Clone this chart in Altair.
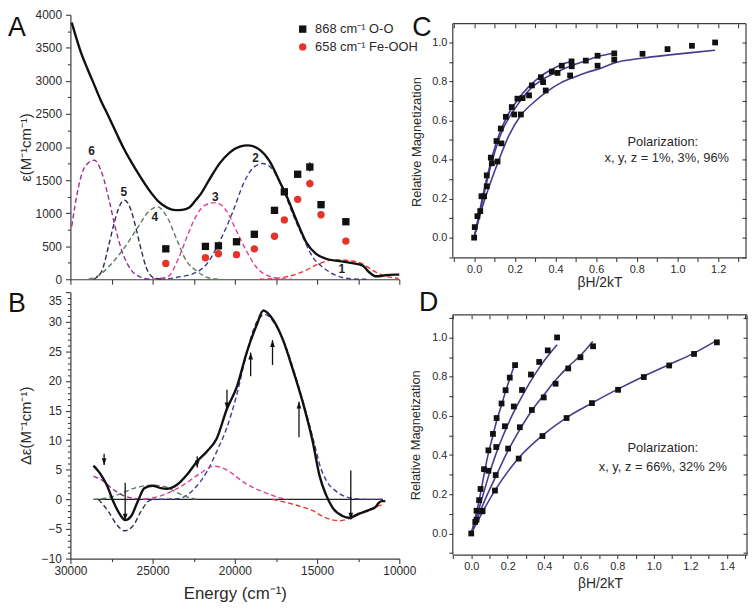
import altair as alt
import pandas as pd

FONT = "Liberation Sans"
AXC = "#3c3c3c"
TXT = "#2a2a2a"

# ---------------- Panel A : absorption (epsilon vs energy) ----------------
A_total_E = [29920, 29680, 29360, 28960, 28650, 28110, 27750, 27150, 26730, 26000, 25100, 24600, 24100, 23600, 23200, 22800, 22400, 22100, 21500, 20900, 20300, 19700, 19200, 18500, 17900, 17300, 16700, 16400, 16070, 15660, 15060, 14460, 13660, 12850, 12250, 11850, 11450, 11100, 10850, 10250, 10000]
A_total_eps = [3880, 3680, 3430, 3180, 3000, 2680, 2500, 2180, 1965, 1650, 1310, 1165, 1080, 1045, 1050, 1080, 1190, 1280, 1530, 1760, 1920, 2005, 2025, 1960, 1790, 1490, 1170, 980, 784, 560, 385, 310, 274, 244, 210, 110, 45, 50, 60, 70, 70]

A_c1_E = [18500, 17700, 16900, 15900, 14900, 13900, 13100, 12250, 11450, 10650, 10050]
A_c1_eps = [0, 10, 35, 110, 234, 295, 285, 234, 110, 35, 15]
A_c2_E = [25500, 24000, 23500, 22300, 21700, 20900, 20100, 19500, 18900, 18300, 17700, 17100, 16500, 15860, 15260, 14660, 13860, 12850, 12000]
A_c2_eps = [0, 10, 30, 110, 235, 584, 1034, 1433, 1682, 1750, 1658, 1383, 1000, 634, 334, 184, 60, 5, 0]
A_c3_E = [25000, 24100, 23400, 22900, 22300, 21800, 21200, 20500, 19900, 19300, 18700, 17900, 17000, 16500]
A_c3_eps = [0, 35, 330, 650, 980, 1120, 1158, 1030, 730, 430, 185, 45, 5, 0]
A_c4_E = [28900, 28200, 27500, 26700, 25900, 25300, 24700, 24100, 23500, 23000, 22300, 21500, 20800]
A_c4_eps = [0, 70, 235, 484, 784, 1009, 1095, 930, 580, 300, 120, 15, 0]
A_c5_E = [28600, 28100, 27700, 27400, 27100, 26900, 26700, 26500, 26300, 26000, 25700, 25400, 24900, 24300]
A_c5_eps = [0, 120, 480, 790, 1050, 1160, 1195, 1150, 1035, 760, 450, 185, 20, 0]
A_c6_E = [29920, 29520, 29120, 28550, 28050, 27650, 27250, 26800, 26300, 25700, 25100]
A_c6_eps = [800, 1385, 1700, 1800, 1580, 1200, 760, 380, 140, 30, 0]

A_band_labels = ["1", "2", "3", "4", "5", "6"]
A_band_label_E = [13494, 18735, 21187, 24861, 26747, 28717]
A_band_label_eps = [160, 1832, 1248, 944, 1318, 1943]

A_pts_E = [24200, 21790, 21000, 19900, 18815, 17590, 16990, 16180, 15440, 14760, 13250]
A_OO = [460, 497, 505, 567, 680, 1042, 1322, 1588, 1698, 1128, 870]
A_OO_err = [20, 20, 20, 20, 40, 40, 40, 40, 70, 50, 50]
A_FeOOH = [240, 325, 385, 372, 460, 650, 897, 1209, 1447, 975, 577]
A_FeOOH_err = [20, 20, 20, 20, 40, 40, 40, 40, 60, 40, 40]
A_series = ["868 cm⁻¹ O-O", "658 cm⁻¹ Fe-OOH"]

# ---------------- Panel B : MCD (delta epsilon vs energy) ----------------
B_total_E = [28600, 28200, 27800, 27400, 27000, 26670, 26300, 25900, 25500, 25000, 24500, 24100, 23500, 22900, 22300, 21700, 21100, 20480, 19880, 19280, 18680, 18270, 17670, 17070, 16470, 15860, 15260, 14860, 14460, 14060, 13450, 13050, 12450, 11850, 11450, 11250, 11050, 10850]
B_total_de = [5.7, 4.4, 2.5, -0.3, -2.5, -3.5, -2.8, -0.3, 1.9, 2.3, 1.9, 1.8, 2.5, 4.2, 6.4, 8.1, 10.3, 15.3, 19.0, 24.8, 29.4, 31.9, 30.3, 26.9, 21.9, 16.3, 9.7, 4.1, 0.8, -1.4, -2.8, -3.1, -2.4, -1.8, -1.3, -0.6, -0.3, -0.3]

B_c1_E = [17700, 16900, 16000, 15260, 14650, 14000, 13650, 13200, 12650, 11850, 11050]
B_c1_de = [0, -0.5, -1.2, -1.9, -2.9, -3.5, -3.6, -3.4, -2.8, -1.7, -0.9]
B_c2_E = [25100, 23500, 22500, 21700, 21100, 20500, 19900, 19300, 18700, 18150, 17600, 17000, 16400, 15800, 15200, 14800, 14400, 13850, 13300, 12850, 12000, 11000]
B_c2_de = [0, 0.1, 1.7, 4.7, 8.1, 12.0, 17.5, 24.5, 29.8, 31.2, 29.8, 26.5, 21.6, 16.0, 9.8, 5.5, 3.0, 1.4, 0.5, 0.2, 0, 0]
B_c3_E = [25500, 24300, 23100, 22100, 21300, 20500, 19900, 19300, 18300, 17300, 16800]
B_c3_de = [0, 0.8, 2.5, 4.4, 5.6, 5.0, 3.8, 2.6, 1.3, 0.3, 0]
B_c4_E = [28600, 27700, 27100, 26100, 25100, 24300, 23500, 22700, 22200]
B_c4_de = [0, 0.3, 0.8, 1.9, 2.4, 2.2, 1.1, 0.25, 0]
B_c5_E = [28300, 27700, 27200, 26700, 26200, 25700, 25200, 24800]
B_c5_de = [0, -2.0, -4.2, -5.3, -4.5, -2.0, -0.2, 0]
B_c6_E = [28600, 28100, 27500, 26900, 26300, 25700, 25300]
B_c6_de = [3.9, 3.3, 1.9, 0.8, 0.25, 0.05, 0]

B_zero_E = [28600, 11000]
B_zero_de = [0, 0]

B_arrow_E = [27950, 26670, 22290, 20480, 19040, 17710, 16100, 12950]
B_arrow_from = [7.7, 2.8, 7.3, 18.5, 20.8, 22.7, 10.5, 4.9]
B_arrow_to = [5.8, -3.6, 5.4, 15.2, 24.8, 26.9, 16.5, -3.4]

# ---------------- Panel C : VTVH magnetization ----------------
C_pts_x = [0.0, 0.003, 0.016, 0.03, 0.036, 0.049, 0.062, 0.062, 0.082, 0.087, 0.110, 0.115, 0.131, 0.134, 0.156, 0.185, 0.197, 0.213, 0.230, 0.238, 0.270, 0.284, 0.328, 0.339, 0.352, 0.382, 0.410, 0.431, 0.472, 0.479, 0.480, 0.549, 0.607, 0.607, 0.689, 0.689, 0.828, 0.951, 1.071, 1.185]
C_pts_y = [0.0, 0.054, 0.110, 0.136, 0.212, 0.212, 0.319, 0.263, 0.410, 0.381, 0.495, 0.390, 0.559, 0.483, 0.619, 0.669, 0.631, 0.712, 0.631, 0.715, 0.729, 0.780, 0.822, 0.797, 0.754, 0.851, 0.844, 0.881, 0.831, 0.903, 0.878, 0.907, 0.881, 0.932, 0.944, 0.912, 0.942, 0.966, 0.983, 1.0]
C_fit1_x = [0, 0.02, 0.05, 0.08, 0.11, 0.156, 0.213, 0.27, 0.328, 0.382, 0.431, 0.48]
C_fit1_y = [0, 0.1, 0.25, 0.38, 0.49, 0.61, 0.705, 0.775, 0.828, 0.862, 0.887, 0.905]
C_fit2_x = [0, 0.02, 0.05, 0.08, 0.131, 0.213, 0.284, 0.339, 0.41, 0.48, 0.549, 0.607, 0.689]
C_fit2_y = [0, 0.09, 0.23, 0.36, 0.53, 0.68, 0.77, 0.812, 0.85, 0.882, 0.906, 0.928, 0.945]
C_fit3_x = [0, 0.03, 0.06, 0.115, 0.172, 0.23, 0.295, 0.361, 0.426, 0.492, 0.557, 0.623, 0.69, 0.83, 0.95, 1.07, 1.185]
C_fit3_y = [0, 0.12, 0.22, 0.38, 0.525, 0.627, 0.695, 0.751, 0.793, 0.822, 0.847, 0.868, 0.895, 0.92, 0.935, 0.948, 0.96]

# ---------------- Panel D : VTVH magnetization ----------------
D_s1_x = [0.0, 0.022, 0.029, 0.051, 0.070, 0.094, 0.119, 0.139, 0.166, 0.188, 0.211, 0.240]
D_s1_y = [0.0, 0.059, 0.116, 0.227, 0.328, 0.424, 0.508, 0.589, 0.663, 0.731, 0.795, 0.859]
D_s2_x = [0.029, 0.043, 0.094, 0.137, 0.184, 0.233, 0.278, 0.327, 0.372, 0.419, 0.470]
D_s2_y = [0.07, 0.17, 0.320, 0.441, 0.547, 0.648, 0.732, 0.811, 0.875, 0.934, 1.0]
D_s3_x = [0.061, 0.134, 0.202, 0.266, 0.332, 0.397, 0.462, 0.531, 0.598, 0.667]
D_s3_y = [0.113, 0.298, 0.433, 0.542, 0.630, 0.694, 0.764, 0.842, 0.899, 0.955]
D_s4_x = [0.061, 0.130, 0.260, 0.390, 0.522, 0.661, 0.804, 0.945, 1.084, 1.220, 1.345]
D_s4_y = [0.116, 0.219, 0.382, 0.497, 0.589, 0.665, 0.733, 0.798, 0.857, 0.916, 0.975]
D_fit1_x = [0, 0.03, 0.05, 0.07, 0.094, 0.119, 0.139, 0.166, 0.188, 0.211, 0.238]
D_fit1_y = [0, 0.11, 0.2, 0.3, 0.41, 0.5, 0.575, 0.655, 0.725, 0.79, 0.862]
D_fit2_x = [0, 0.05, 0.094, 0.137, 0.184, 0.233, 0.278, 0.327, 0.372, 0.419, 0.47]
D_fit2_y = [0, 0.15, 0.29, 0.41, 0.52, 0.62, 0.70, 0.78, 0.845, 0.905, 0.963]
D_fit3_x = [0, 0.07, 0.134, 0.2, 0.266, 0.33, 0.4, 0.46, 0.53, 0.6, 0.665]
D_fit3_y = [0, 0.16, 0.29, 0.42, 0.53, 0.625, 0.71, 0.78, 0.85, 0.91, 0.98]
D_fit4_x = [0, 0.13, 0.26, 0.39, 0.52, 0.66, 0.80, 0.94, 1.08, 1.22, 1.345]
D_fit4_y = [0, 0.22, 0.385, 0.5, 0.59, 0.665, 0.735, 0.80, 0.86, 0.92, 0.985]

# ---------------- styles ----------------
BAND_COLORS = {"1": "#e8342e", "2": "#3b3c92", "3": "#e23d96", "4": "#5d7d5c", "5": "#2f2b4c", "6": "#9a2f8e"}
FIT_COLOR = "#4a3a8e"
ARROW_DOWN = "M-0.75,-2.2L0.75,-2.2L0,0Z"
ARROW_UP = "M-0.75,2.2L0.75,2.2L0,0Z"
LETTER_SIZE = 27


def frame(xs, ys, xn, yn, **cols):
    d = pd.DataFrame({xn: xs, yn: ys})
    for k, v in cols.items():
        d[k] = v
    return d


def cond(test, when_true, otherwise):
    return {"condition": {"test": test, "value": when_true}, "value": otherwise}


def letter(ch, x, y):
    return alt.Chart(pd.DataFrame({"t": [ch]})).mark_text(
        text=ch, font=FONT, fontSize=LETTER_SIZE, align="left", baseline="alphabetic", color="#111"
    ).encode(x=alt.value(x), y=alt.value(y))


def note(txt, x, y, size=13):
    return alt.Chart(pd.DataFrame({"t": [txt]})).mark_text(
        text=txt, font=FONT, fontSize=size, align="center", baseline="middle", color=TXT
    ).encode(x=alt.value(x), y=alt.value(y))


ENERGY_TICKS = [10000 + 2500 * i for i in range(9)]
E_SCALE = alt.Scale(domain=[10000, 30000], reverse=True, nice=False, zero=False)

# ---------------- Panel A chart ----------------
A_xaxis = alt.Axis(values=ENERGY_TICKS, labels=False, title=None, tickSize=5, grid=False)
A_yaxis = alt.Axis(
    values=[250 * i for i in range(17)], format="d",
    labelExpr="datum.value % 500 === 0 ? datum.label : ''",
    tickSize=cond("datum.value % 500 !== 0", 3, 5),
    labelPadding=4, labelFontSize=12, labelOverlap=False,
    title="ε(M⁻¹cm⁻¹)", titleFontSize=15, titleX=-45, titleBaseline="middle", grid=False,
)
A_yscale = alt.Scale(domain=[0, 4000], nice=False, zero=False)


def ax_A(f):
    return alt.X(f"{f}:Q", scale=E_SCALE, axis=A_xaxis)


def ay_A(f):
    return alt.Y(f"{f}:Q", scale=A_yscale, axis=A_yaxis)


A_bands = [("1", A_c1_E, A_c1_eps), ("2", A_c2_E, A_c2_eps), ("3", A_c3_E, A_c3_eps),
           ("4", A_c4_E, A_c4_eps), ("5", A_c5_E, A_c5_eps), ("6", A_c6_E, A_c6_eps)]
layersA = []
for name, xs, ys in A_bands:
    layersA.append(
        alt.Chart(frame(xs, ys, "E", "v")).mark_line(
            color=BAND_COLORS[name], strokeDash=[5, 3], strokeWidth=1.4, interpolate="monotone"
        ).encode(x=ax_A("E"), y=ay_A("v"))
    )
layersA.append(
    alt.Chart(frame(A_total_E, A_total_eps, "E", "v")).mark_line(
        color="#111111", strokeWidth=2.4, interpolate="monotone"
    ).encode(x=ax_A("E"), y=ay_A("v"))
)
for vals, errs, col in [(A_OO, A_OO_err, "#111111"), (A_FeOOH, A_FeOOH_err, "#e5332a")]:
    d = pd.DataFrame({"E": A_pts_E, "lo": [v - e for v, e in zip(vals, errs)], "hi": [v + e for v, e in zip(vals, errs)]})
    layersA.append(alt.Chart(d).mark_rule(color=col, strokeWidth=1.2).encode(x=ax_A("E"), y=ay_A("lo"), y2="hi:Q"))
A_sc = pd.DataFrame({
    "E": A_pts_E + A_pts_E,
    "v": A_OO + A_FeOOH,
    "series": [A_series[0]] * len(A_OO) + [A_series[1]] * len(A_FeOOH),
})
leg = alt.Legend(title=None, orient="none", legendX=228, legendY=8, labelFontSize=13, labelFont=FONT,
                 labelColor=TXT, symbolSize=55, rowPadding=4, padding=0, labelOffset=6, labelLimit=300)
layersA.append(
    alt.Chart(A_sc).mark_point(filled=True, size=55, opacity=1).encode(
        x=ax_A("E"), y=ay_A("v"),
        color=alt.Color("series:N", scale=alt.Scale(domain=A_series, range=["#111111", "#e5332a"]), legend=leg),
        shape=alt.Shape("series:N", scale=alt.Scale(domain=A_series, range=["square", "circle"]), legend=leg),
    )
)
layersA.append(
    alt.Chart(frame(A_band_label_E, A_band_label_eps, "E", "v", t=A_band_labels)).mark_text(
        font=FONT, fontSize=12, fontWeight="bold", color="#222"
    ).encode(x=ax_A("E"), y=ay_A("v"), text="t:N")
)
layersA.append(letter("A", -63, 21))
chartA = alt.layer(*layersA).properties(width=332, height=267, view=alt.ViewBackground(strokeOpacity=0))

# ---------------- Panel B chart ----------------
B_xaxis = alt.Axis(
    values=ENERGY_TICKS, format="d",
    labelExpr="datum.value % 5000 === 0 ? datum.label : ''",
    tickSize=cond("datum.value % 5000 !== 0", 3, 5),
    labelPadding=2, labelFontSize=12, labelOverlap=False,
    title="Energy (cm⁻¹)", titleFontSize=17, titleY=35, titleBaseline="middle", grid=False,
)
B_yaxis = alt.Axis(
    values=list(range(-10, 36)),
    labelExpr="datum.value % 5 === 0 ? datum.label : ''",
    tickSize=cond("datum.value % 5 !== 0", 3, 5),
    labelOffset=cond("datum.value === 35", 8, 0),
    labelPadding=4, labelFontSize=12, labelOverlap=False,
    title="Δε(M⁻¹cm⁻¹)", titleFontSize=15, titleX=-45, titleBaseline="middle", grid=False,
)
B_yscale = alt.Scale(domain=[-10, 35], nice=False, zero=False)


def ax_B(f):
    return alt.X(f"{f}:Q", scale=E_SCALE, axis=B_xaxis)


def ay_B(f):
    return alt.Y(f"{f}:Q", scale=B_yscale, axis=B_yaxis)


B_bands = [("1", B_c1_E, B_c1_de), ("2", B_c2_E, B_c2_de), ("3", B_c3_E, B_c3_de),
           ("4", B_c4_E, B_c4_de), ("5", B_c5_E, B_c5_de), ("6", B_c6_E, B_c6_de)]
layersB = [
    alt.Chart(frame(B_zero_E, B_zero_de, "E", "v")).mark_line(color="#222", strokeWidth=1.4).encode(x=ax_B("E"), y=ay_B("v"))
]
for name, xs, ys in B_bands:
    layersB.append(
        alt.Chart(frame(xs, ys, "E", "v")).mark_line(
            color=BAND_COLORS[name], strokeDash=[5, 3], strokeWidth=1.4, interpolate="monotone"
        ).encode(x=ax_B("E"), y=ay_B("v"))
    )
layersB.append(
    alt.Chart(frame(B_total_E, B_total_de, "E", "v")).mark_line(
        color="#111111", strokeWidth=2.4, interpolate="monotone"
    ).encode(x=ax_B("E"), y=ay_B("v"))
)
arr = pd.DataFrame({"E": B_arrow_E, "v": B_arrow_from, "v2": B_arrow_to})
arr_down = arr[arr["v2"] < arr["v"]]
arr_up = arr[arr["v2"] > arr["v"]]
layersB.append(alt.Chart(arr).mark_rule(color="#111", strokeWidth=1.3).encode(x=ax_B("E"), y=ay_B("v"), y2="v2:Q"))
layersB.append(alt.Chart(arr_down).mark_point(shape=ARROW_DOWN, filled=True, size=40, color="#111", opacity=1).encode(x=ax_B("E"), y=ay_B("v2")))
layersB.append(alt.Chart(arr_up).mark_point(shape=ARROW_UP, filled=True, size=40, color="#111", opacity=1).encode(x=ax_B("E"), y=ay_B("v2")))
layersB.append(letter("B", -63, 20))
chartB = alt.layer(*layersB).properties(width=332, height=269, view=alt.ViewBackground(strokeOpacity=0))

# ---------------- Panels C and D ----------------
EVEN_EXPR = "(abs(round(datum.value * 10)) % 2 === 0 && datum.value > -0.05) ? format(datum.value, '.1f') : ''"


def tenths(start, n):
    return [round(start + 0.1 * i, 1) for i in range(n)]


def vtvh_panel(pts, fits, xdom, ydom, frame_top, xticks, yticks, w, h, title_x, title_xy, letter_ch, letter_xy, lines, line_xy):
    px_per_unit = h / (ydom[1] - ydom[0])
    inset = (ydom[1] - frame_top) * px_per_unit
    xaxis = alt.Axis(values=xticks, labelExpr=EVEN_EXPR, tickSize=4, labelPadding=2, labelFontSize=11, labelOverlap=False,
                     title="βH/2kT", titleFontSize=14, titleY=title_xy, titleBaseline="middle", grid=False)
    yaxis = alt.Axis(values=yticks, labelExpr=EVEN_EXPR, tickSize=4, labelPadding=2, labelFontSize=11, labelOverlap=False,
                     domain=False, title="Relative Magnetization", titleFontSize=13, titleX=title_x[0], titleY=title_x[1],
                     titleBaseline="middle", grid=False)
    top_axis = alt.Axis(orient="top", values=xticks, labels=False, title=None, domain=False, tickSize=4,
                        offset=-round(4 + inset), grid=False)
    right_axis = alt.Axis(orient="right", values=yticks, labels=False, title=None, domain=False, tickSize=4, offset=-4, grid=False)
    xs = alt.Scale(domain=xdom, nice=False, zero=False)
    ys = alt.Scale(domain=ydom, nice=False, zero=False)
    X = alt.X("x:Q", scale=xs, axis=xaxis)
    Y = alt.Y("y:Q", scale=ys, axis=yaxis)
    fit_df = pd.concat([frame(fx, fy, "x", "y", curve=str(i)) for i, (fx, fy) in enumerate(fits)], ignore_index=True)
    pt_df = pd.concat([frame(px, py, "x", "y") for px, py in pts], ignore_index=True)
    box_v = pd.DataFrame({"x": [xdom[0], xdom[1]], "y": [ydom[0], ydom[0]], "y2": [frame_top, frame_top]})
    box_h = pd.DataFrame({"x": [xdom[0]], "x2": [xdom[1]], "y": [frame_top]})
    inner = alt.layer(
        alt.Chart(box_v).mark_rule(color=AXC, strokeWidth=1.2).encode(x=X, y=Y, y2="y2:Q"),
        alt.Chart(box_h).mark_rule(color=AXC, strokeWidth=1.2).encode(x=X, x2="x2:Q", y=Y),
        alt.Chart(fit_df).mark_line(color=FIT_COLOR, strokeWidth=1.6, interpolate="monotone").encode(x=X, y=Y, detail="curve:N"),
        alt.Chart(pt_df).mark_point(shape="square", filled=True, size=34, color="#111", opacity=1).encode(x=X, y=Y),
    )
    inward = alt.Chart(pt_df).mark_point(opacity=0).encode(
        x=alt.X("x:Q", scale=xs, axis=top_axis), y=alt.Y("y:Q", scale=ys, axis=right_axis)
    )
    return alt.layer(
        inner, inward,
        note(lines[0], line_xy[0][0], line_xy[0][1]),
        note(lines[1], line_xy[1][0], line_xy[1][1]),
        letter(letter_ch, letter_xy[0], letter_xy[1]),
    ).resolve_axis(x="independent", y="independent").properties(
        width=w, height=h, view=alt.ViewBackground(strokeOpacity=0)
    )


chartC = vtvh_panel(
    [(C_pts_x, C_pts_y)],
    [(C_fit1_x, C_fit1_y), (C_fit2_x, C_fit2_y), (C_fit3_x, C_fit3_y)],
    [-0.105, 1.337], [-0.1015, 1.142], 1.0964, tenths(-0.1, 15), tenths(-0.1, 12),
    296, 245, (-37, 128), 25, "C", (-41, 21),
    ["Polarization:", "x, y, z = 1%, 3%, 96%"], [(212, 128), (216, 145)],
)
chartD = vtvh_panel(
    [(D_s1_x, D_s1_y), (D_s2_x, D_s2_y), (D_s3_x, D_s3_y), (D_s4_x, D_s4_y)],
    [(D_fit1_x, D_fit1_y), (D_fit2_x, D_fit2_y), (D_fit3_x, D_fit3_y), (D_fit4_x, D_fit4_y)],
    [-0.101, 1.51], [-0.108, 1.115], 1.115, tenths(-0.1, 17), tenths(-0.1, 13),
    297, 242, (-38, 121), 29, "D", (-34, -4),
    ["Polarization:", "x, y, z = 66%, 32% 2%"], [(212, 134), (212, 154)],
)

left = alt.vconcat(chartA, chartB, spacing=5)
right = alt.vconcat(chartC, chartD, spacing=0)
chart = alt.concat(left, right, columns=2, align="none", spacing=-7).properties(
    padding={"top": -2, "left": 0, "right": 0, "bottom": 0}
).configure_axis(
    labelFont=FONT, titleFont=FONT, labelColor=TXT, titleColor=TXT, labelFlush=False,
    tickColor=AXC, domainColor=AXC, titleFontWeight="normal", domainWidth=1.2, tickWidth=1.1,
)

chart.save("out.html", embed_options={"renderer": "svg", "actions": False})
